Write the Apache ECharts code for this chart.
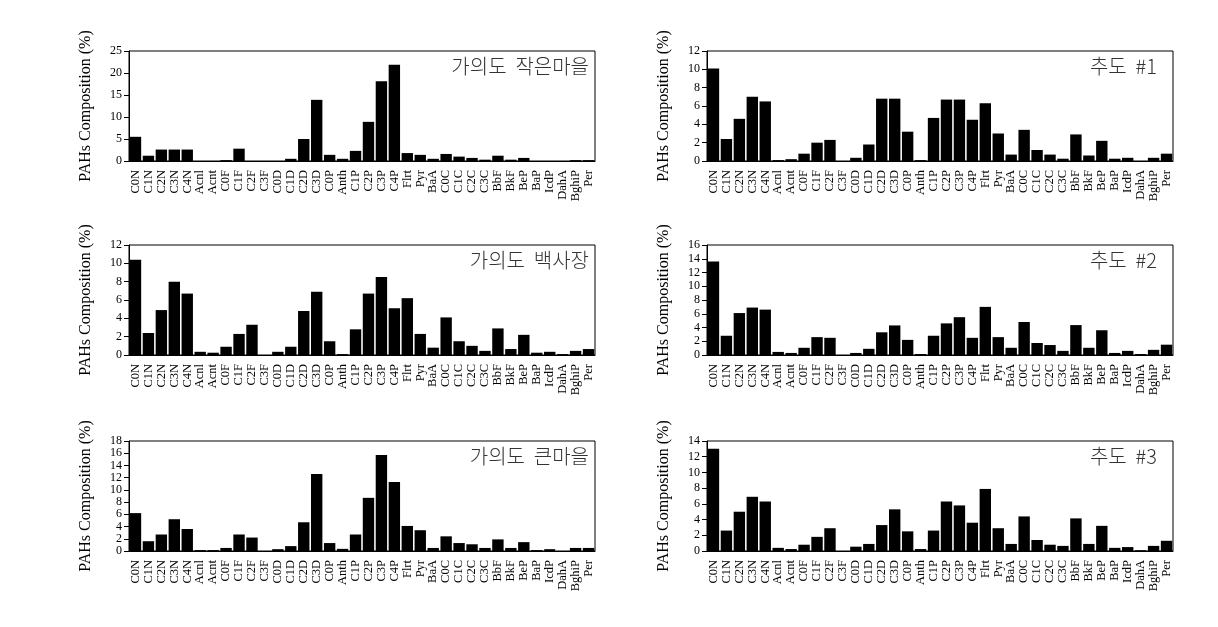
<!DOCTYPE html>
<html>
<head>
<meta charset="utf-8">
<title>PAHs Composition</title>
<script src="https://cdn.jsdelivr.net/npm/echarts@6/dist/echarts.min.js"></script>
<style>
  html, body { margin: 0; padding: 0; background: #fff; }
  #chart { width: 1218px; height: 627px; }
</style>
</head>
<body>
<div id="chart"></div>
<script type="text/javascript">
// 성분 목록
var categories = ['C0N','C1N','C2N','C3N','C4N','Acnl','Acnt','C0F','C1F','C2F','C3F',
  'C0D','C1D','C2D','C3D','C0P','Anth','C1P','C2P','C3P','C4P','Flrt','Pyr','BaA',
  'C0C','C1C','C2C','C3C','BbF','BkF','BeP','BaP','IcdP','DahA','BghiP','Per'];

var panelTitles = ['가의도  작은마을', '추도  #1', '가의도  백사장', '추도  #2', '가의도  큰마을', '추도  #3'];
var yMaxList = [25, 12, 12, 16, 18, 14];
var yStepList = [5, 2, 2, 2, 2, 2];

var gaJageun = [5.5,1.2,2.6,2.6,2.6,0,0,0.2,2.8,0,0,0,0.5,5.0,13.9,1.4,0.5,2.3,8.9,18.1,21.9,
  1.8,1.4,0.5,1.6,1.0,0.7,0.3,1.2,0.3,0.7,0,0,0,0.2,0.2];
var chudo1 = [10.1,2.4,4.6,7.0,6.5,0.1,0.2,0.8,2.0,2.3,0,0.35,1.8,6.8,6.8,3.2,0.1,4.7,6.7,6.7,4.5,
  6.3,3.0,0.7,3.4,1.2,0.7,0.25,2.9,0.6,2.2,0.25,0.35,0,0.35,0.8];
var gaBaeksa = [10.4,2.4,4.9,8.0,6.7,0.35,0.25,0.9,2.3,3.3,0,0.35,0.9,4.8,6.9,1.5,0.1,2.8,6.7,8.5,5.1,
  6.2,2.3,0.8,4.1,1.5,1.0,0.45,2.9,0.65,2.2,0.25,0.35,0.1,0.45,0.65];
var chudo2 = [13.6,2.8,6.1,6.9,6.6,0.45,0.3,1.05,2.6,2.5,0,0.3,0.9,3.3,4.3,2.2,0.15,2.8,4.6,5.5,2.5,
  7.0,2.6,1.05,4.8,1.75,1.45,0.6,4.35,1.05,3.6,0.3,0.6,0.15,0.75,1.5];
var gaKeun = [6.2,1.6,2.7,5.2,3.6,0.15,0.15,0.5,2.7,2.2,0,0.3,0.8,4.7,12.6,1.3,0.35,2.7,8.7,15.7,11.3,
  4.1,3.4,0.5,2.4,1.3,1.1,0.5,1.9,0.5,1.45,0.15,0.3,0,0.5,0.5];
var chudo3 = [13.0,2.6,5.0,6.9,6.3,0.4,0.25,0.8,1.8,2.9,0,0.55,0.9,3.3,5.3,2.5,0.25,2.6,6.3,5.8,3.6,
  7.9,2.9,0.9,4.4,1.4,0.8,0.65,4.15,0.9,3.2,0.4,0.5,0.1,0.65,1.3];

var panelData = [gaJageun, chudo1, gaBaeksa, chudo2, gaKeun, chudo3];

(function () {
  // 패널 위치
  var colLeft = [129, 707];
  var plotW = 466;
  var rowTop = [51, 245, 441];
  var plotH = 110;
  var titleRight = [1, 11];

  var serif = '"Liberation Serif", "DejaVu Serif", serif';
  var grids = [], xAxes = [], yAxes = [], seriesList = [], titles = [];

  for (var i = 0; i < 6; i++) {
    var col = i % 2, row = Math.floor(i / 2);
    var gx = colLeft[col], gy = rowTop[row];
    grids.push({
      left: gx, top: gy, width: plotW, height: plotH,
      show: true, borderColor: '#000', borderWidth: 1
    });
    xAxes.push({
      type: 'category', gridIndex: i, data: categories,
      axisLine: { lineStyle: { color: '#000', width: 1 } },
      axisTick: { alignWithLabel: true, length: 6, lineStyle: { color: '#000' } },
      axisLabel: { rotate: 90, interval: 0, fontFamily: serif, fontSize: 12.5, color: '#000', margin: 9 }
    });
    yAxes.push({
      type: 'value', gridIndex: i, min: 0, max: yMaxList[i], interval: yStepList[i],
      name: 'PAHs Composition (%)', nameLocation: 'middle', nameGap: 35,
      nameTextStyle: { fontFamily: serif, fontSize: 16, color: '#000' },
      axisLine: { show: true, lineStyle: { color: '#000', width: 1 } },
      axisTick: { show: true, length: 5, lineStyle: { color: '#000' } },
      axisLabel: { fontFamily: serif, fontSize: 12, color: '#000', margin: 7 },
      splitLine: { show: false }
    });
    var vals = panelData[i].map(function (v, k) {
      // 큰마을 IcdP 막대는 속이 빈 모양
      if (i === 4 && categories[k] === 'IcdP') {
        return { value: v, itemStyle: { color: '#fff', borderColor: '#000', borderWidth: 1 } };
      }
      return v;
    });
    seriesList.push({
      type: 'bar', xAxisIndex: i, yAxisIndex: i, data: vals,
      barCategoryGap: '12%', itemStyle: { color: '#000' }, silent: true
    });
    titles.push({
      text: panelTitles[i], right: 1218 - (gx + plotW) + titleRight[col], top: gy,
      textStyle: { fontFamily: '"Noto Sans CJK KR", sans-serif', fontWeight: 300, fontSize: 20, color: '#333' }
    });
  }

  var chart = echarts.init(document.getElementById('chart'), null, { renderer: 'canvas' });
  chart.setOption({
    animation: false,
    backgroundColor: '#fff',
    title: titles,
    grid: grids,
    xAxis: xAxes,
    yAxis: yAxes,
    series: seriesList
  });
})();
</script>
</body>
</html>
